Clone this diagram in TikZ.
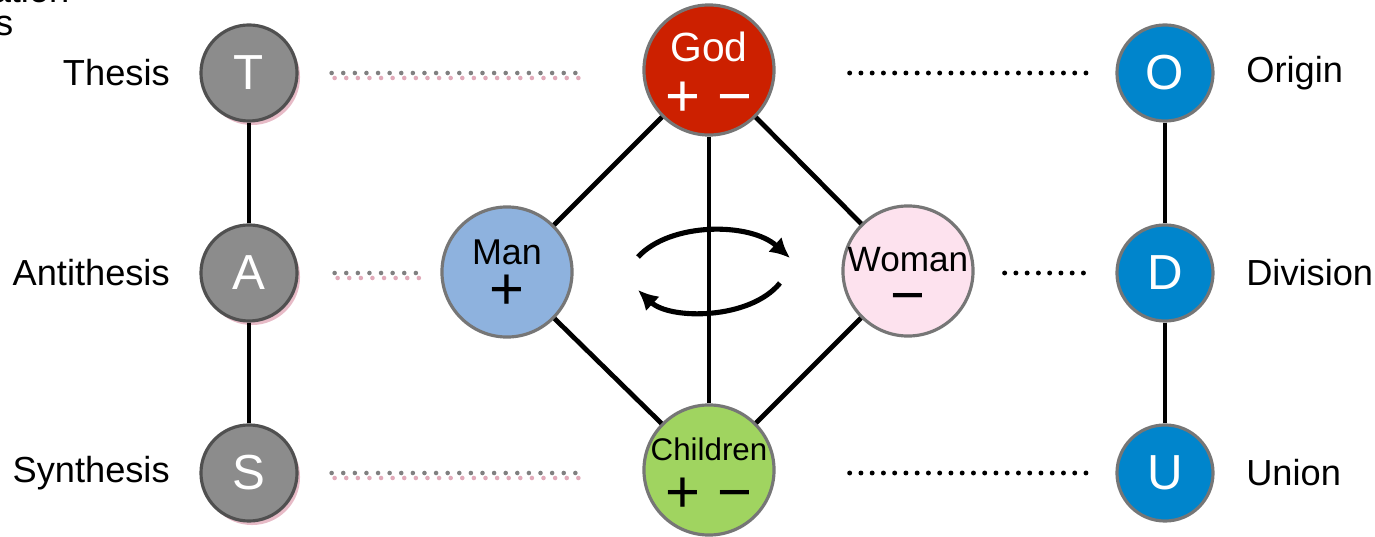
\documentclass[tikz,border=0pt]{standalone}
\usepackage{fontspec}
\setmainfont{Liberation Sans}
\usetikzlibrary{arrows.meta,positioning,shadows}
\definecolor{tasgray}{RGB}{140,140,140}
\definecolor{tasedge}{RGB}{80,80,80}
\definecolor{odublue}{RGB}{0,133,204}
\definecolor{godred}{RGB}{204,32,0}
\definecolor{manblue}{RGB}{142,178,222}
\definecolor{womanpink}{RGB}{253,226,238}
\definecolor{childgreen}{RGB}{160,212,96}
\definecolor{rimgray}{RGB}{118,118,118}
\definecolor{pinkshade}{RGB}{225,170,185}
\newcommand{\sign}[1]{{\fontsize{17}{10}\selectfont #1}}
\newcommand{\lift}[1]{\rule{0pt}{#1}}

\begin{document}
\begin{tikzpicture}[
  x=0.01cm, y=-0.01cm,
  >=Latex,
  lbl/.style={inner sep=0pt, font=\fontsize{10.3}{12}\selectfont},
  letter/.style={circle, minimum size=0.96cm, inner sep=0pt, line width=0.9pt,
    text=white, font=\fontsize{14}{14}\selectfont},
  tas/.style={letter, draw=tasedge, fill=tasgray,
    drop shadow={shadow xshift=0.03cm, shadow yshift=-0.04cm, fill=pinkshade, opacity=0.8}},
  odu/.style={letter, draw=rimgray, fill=odublue},
  family/.style={circle, minimum size=1.30cm, inner sep=-10pt, line width=0.9pt,
    draw=rimgray, align=center},
  link/.style={line width=1.35pt},
  graydots/.style={line width=1.3pt, line cap=round, draw=gray,
    dash pattern=on 0pt off 3.3pt},
  pinkdots/.style={graydots, draw=pinkshade},
  blackdots/.style={line width=1.4pt, line cap=round,
    dash pattern=on 0pt off 3.2pt},
  turn/.style={line width=1.45pt, arrows={-Latex[length=0.2cm, width=0.2cm]}}
]
  \useasboundingbox (0,0) rectangle (1375,537);

  % cut-off text at the corner
  \begin{scope}
    \clip (0,0) rectangle (1375,537);
    \node[lbl, anchor=base east] at (70,3) {ation};
    \node[lbl, anchor=base east] at (14,36) {s};
  \end{scope}

  % left column
  \node[tas] (T) at (249,73) {T};
  \node[tas] (A) at (249,273) {A};
  \node[tas] (S) at (249,473) {S};
  \node[lbl, left=0.29cm of T] (thesis) {Thesis};
  \node[lbl, left=0.29cm of A] (antithesis) {Antithesis};
  \node[lbl, left=0.29cm of S] (synthesis) {Synthesis};

  % right column
  \node[odu] (O) at (1165,73) {O};
  \node[odu] (D) at (1165,273) {D};
  \node[odu] (U) at (1165,473) {U};
  \node[lbl, right=0.31cm of O] (origin) {Origin};
  \node[lbl, right=0.31cm of D] (division) {Division};
  \node[lbl, right=0.31cm of U] (union) {Union};

  % family diamond
  \node[family, fill=godred, text=white, font=\fontsize{11.6}{15.6}\selectfont] (God) at (709,70)
    {\lift{10.8pt}God\\\sign{+ −}};
  \node[family, fill=manblue, font=\fontsize{10.2}{13}\selectfont] (Man) at (507,272)
    {\lift{8.5pt}Man\\\sign{+}};
  \node[family, fill=womanpink, font=\fontsize{10}{12.5}\selectfont] (Woman) at (908,271)
    {\lift{13pt}Woman\\\sign{−}};
  \node[family, fill=childgreen, font=\fontsize{8.9}{14.8}\selectfont] (Children) at (709,470)
    {\lift{9.3pt}Children\\\sign{+ −}};

  \draw[link] (T) -- (A);
  \draw[link] (A) -- (S);
  \draw[link] (O) -- (D);
  \draw[link] (D) -- (U);
  \draw[link] (God) -- (Man);
  \draw[link] (God) -- (Woman);
  \draw[link] (Man) -- (Children);
  \draw[link] (Woman) -- (Children);
  \draw[link] (God) -- (Children);

  % rotation
  \draw[turn] (638,257) .. controls (670,222) and (750,222) .. (790,258);
  \draw[turn] (780,283) .. controls (750,320) and (670,320) .. (638,290);

  % dotted links
  \draw[pinkdots, shorten <=0.33cm, shorten >=0.66cm, transform canvas={xshift=0.03cm, yshift=-0.05cm}]
    (T.east) -- (T.east -| God.west);
  \draw[graydots, shorten <=0.33cm, shorten >=0.66cm] (T.east) -- (T.east -| God.west);
  \draw[pinkdots, shorten <=0.36cm, shorten >=0.22cm, transform canvas={xshift=0.03cm, yshift=-0.05cm}]
    (A.east) -- (A.east -| Man.west);
  \draw[graydots, shorten <=0.36cm, shorten >=0.22cm] (A.east) -- (A.east -| Man.west);
  \draw[pinkdots, shorten <=0.33cm, shorten >=0.66cm, transform canvas={xshift=0.03cm, yshift=-0.05cm}]
    (S.east) -- (S.east -| Children.west);
  \draw[graydots, shorten <=0.33cm, shorten >=0.66cm] (S.east) -- (S.east -| Children.west);

  \draw[blackdots, shorten <=0.74cm, shorten >=0.28cm] (God.east |- O.west) -- (O.west);
  \draw[blackdots, shorten <=0.30cm, shorten >=0.28cm] (Woman.east |- D.west) -- (D.west);
  \draw[blackdots, shorten <=0.74cm, shorten >=0.28cm] (Children.east |- U.west) -- (U.west);
\end{tikzpicture}
\end{document}
